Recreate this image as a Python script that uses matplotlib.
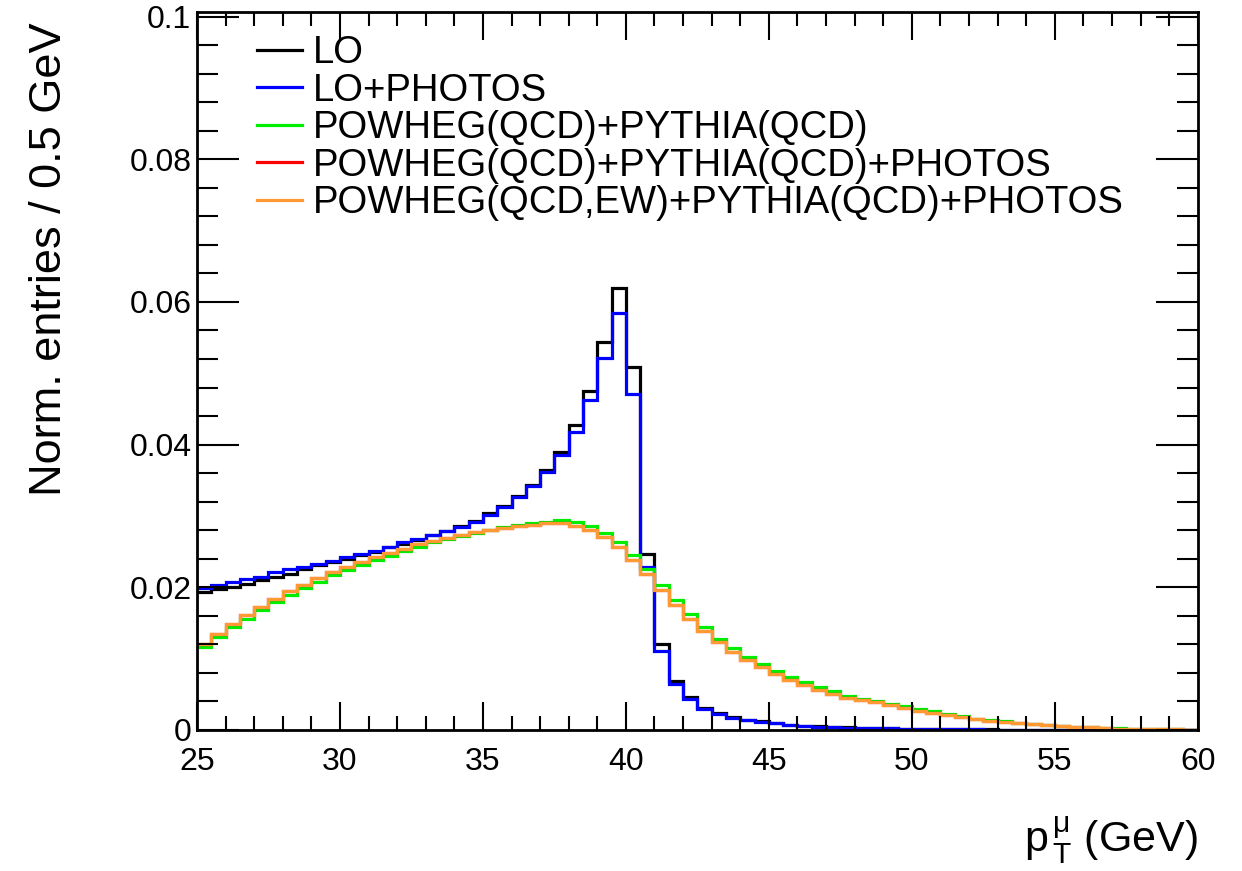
import numpy as np
import matplotlib
matplotlib.use("Agg")
import matplotlib.pyplot as plt
from matplotlib.ticker import MultipleLocator

# Bin edges: 25 to 60 GeV in 0.5 GeV steps (70 bins).
edges = np.arange(25.0, 60.01, 0.5)

lo = [
    0.0194, 0.0198, 0.0201, 0.0205, 0.0210, 0.0215, 0.0219, 0.0226, 0.0231, 0.0235,
    0.0240, 0.0245, 0.0250, 0.0256, 0.0261, 0.0267, 0.0273, 0.0279, 0.0286, 0.0293,
    0.0304, 0.0314, 0.0328, 0.0344, 0.0364, 0.0389, 0.0427, 0.0475, 0.0544, 0.0619,
    0.0509, 0.0247, 0.0120, 0.0069, 0.0046, 0.0031, 0.0024, 0.0018, 0.0014, 0.0012,
    0.00096, 0.00076, 0.00062, 0.00050, 0.00042, 0.00036, 0.00031, 0.00027, 0.00023, 0.00020,
    0.00017, 0.00014, 0.00012, 0.00010, 0.00008, 0.00007, 0.00006, 0.00005, 0.00004, 0.00003,
    0.00003, 0.00002, 0.00002, 0.00001, 0.00001, 0.00001, 0.00001, 0.0, 0.0, 0.0,
]
lo_photos = [
    0.0199, 0.0203, 0.0208, 0.0211, 0.0215, 0.0221, 0.0225, 0.0229, 0.0233, 0.0237,
    0.0242, 0.0246, 0.0251, 0.0257, 0.0263, 0.0268, 0.0274, 0.0279, 0.0284, 0.0291,
    0.0302, 0.0312, 0.0326, 0.0342, 0.0362, 0.0385, 0.0417, 0.0462, 0.0522, 0.0584,
    0.0471, 0.0228, 0.0111, 0.0065, 0.0043, 0.0030, 0.0023, 0.0017, 0.0014, 0.0011,
    0.00092, 0.00073, 0.00060, 0.00048, 0.00040, 0.00034, 0.00029, 0.00025, 0.00021, 0.00018,
    0.00015, 0.00013, 0.00011, 0.00009, 0.00008, 0.00006, 0.00005, 0.00004, 0.00004, 0.00003,
    0.00002, 0.00002, 0.00002, 0.00001, 0.00001, 0.00001, 0.00001, 0.0, 0.0, 0.0,
]
powheg_qcd = [
    0.0116, 0.0130, 0.0144, 0.0156, 0.0168, 0.0179, 0.0189, 0.0199, 0.0208, 0.0217,
    0.0224, 0.0231, 0.0238, 0.0244, 0.0251, 0.0257, 0.0263, 0.0268, 0.0272, 0.0276,
    0.0280, 0.0284, 0.0287, 0.0290, 0.0292, 0.0294, 0.0291, 0.0286, 0.0276, 0.0263,
    0.0245, 0.0226, 0.0203, 0.0182, 0.0162, 0.0144, 0.0128, 0.0115, 0.0103, 0.0092,
    0.0083, 0.0074, 0.0067, 0.0060, 0.0054, 0.0048, 0.0044, 0.0041, 0.0037, 0.0033,
    0.0029, 0.0026, 0.0022, 0.0019, 0.0016, 0.0014, 0.0012, 0.0010, 0.00085, 0.00070,
    0.00056, 0.00046, 0.00037, 0.00028, 0.00022, 0.00018, 0.00014, 0.00011, 0.00008, 0.00006,
]
powheg_qcd_photos = [
    0.0121, 0.0135, 0.0148, 0.0161, 0.0173, 0.0184, 0.0195, 0.0203, 0.0213, 0.0222,
    0.0229, 0.0235, 0.0242, 0.0248, 0.0254, 0.0260, 0.0265, 0.0269, 0.0273, 0.0277,
    0.0280, 0.0283, 0.0286, 0.0288, 0.0290, 0.0290, 0.0286, 0.0280, 0.0270, 0.0256,
    0.0238, 0.0218, 0.0196, 0.0175, 0.0155, 0.0139, 0.0123, 0.0110, 0.0098, 0.0088,
    0.0079, 0.0070, 0.0063, 0.0056, 0.0050, 0.0045, 0.0042, 0.0039, 0.0035, 0.0031,
    0.0027, 0.0024, 0.0021, 0.0018, 0.0015, 0.0013, 0.0011, 0.00096, 0.00080, 0.00067,
    0.00053, 0.00044, 0.00035, 0.00026, 0.00020, 0.00016, 0.00012, 0.00010, 0.00007, 0.00005,
]
powheg_qcd_ew_photos = [
    0.0121, 0.0135, 0.0148, 0.0161, 0.0173, 0.0184, 0.0195, 0.0203, 0.0213, 0.0222,
    0.0229, 0.0235, 0.0242, 0.0248, 0.0254, 0.0260, 0.0265, 0.0269, 0.0273, 0.0277,
    0.0280, 0.0283, 0.0286, 0.0288, 0.0290, 0.0290, 0.0286, 0.0280, 0.0270, 0.0256,
    0.0238, 0.0218, 0.0196, 0.0175, 0.0155, 0.0139, 0.0123, 0.0110, 0.0098, 0.0088,
    0.0079, 0.0070, 0.0063, 0.0056, 0.0050, 0.0045, 0.0042, 0.0039, 0.0035, 0.0031,
    0.0027, 0.0024, 0.0021, 0.0018, 0.0015, 0.0013, 0.0011, 0.00096, 0.00080, 0.00067,
    0.00053, 0.00044, 0.00035, 0.00026, 0.00020, 0.00016, 0.00012, 0.00010, 0.00007, 0.00005,
]

series = [
    ("LO", lo, "black"),
    ("LO+PHOTOS", lo_photos, "#0000ff"),
    ("POWHEG(QCD)+PYTHIA(QCD)", powheg_qcd, "#00ee00"),
    ("POWHEG(QCD)+PYTHIA(QCD)+PHOTOS", powheg_qcd_photos, "#ff0000"),
    ("POWHEG(QCD,EW)+PYTHIA(QCD)+PHOTOS", powheg_qcd_ew_photos, "#ff9933"),
]

plt.rcParams["font.family"] = ["Liberation Sans", "DejaVu Sans"]
plt.rcParams["mathtext.fontset"] = "custom"
plt.rcParams["mathtext.rm"] = "Liberation Sans"
plt.rcParams["mathtext.it"] = "Liberation Sans"

fig = plt.figure(figsize=(12.42, 8.71), dpi=100)
ax = fig.add_axes([0.1586, 0.1619, 0.8058, 0.8240])

for label, values, color in series:
    ax.stairs(values, edges, color=color, linewidth=2.3, label=label, baseline=None)

ax.set_xlim(25, 60)
ax.set_ylim(0, 0.1006)

ax.xaxis.set_major_locator(MultipleLocator(5))
ax.xaxis.set_minor_locator(MultipleLocator(1))
ax.yaxis.set_major_locator(MultipleLocator(0.02))
ax.yaxis.set_minor_locator(MultipleLocator(0.004))
ax.yaxis.set_major_formatter(plt.FuncFormatter(lambda v, p: "0" if v == 0 else f"{v:g}"))

ax.tick_params(axis="both", which="both", direction="in", top=True, right=True,
               width=1.5, labelsize=23, colors="black")
ax.tick_params(axis="x", which="major", length=20, pad=12)
ax.tick_params(axis="x", which="minor", length=10)
ax.tick_params(axis="y", which="major", length=30, pad=4)
ax.tick_params(axis="y", which="minor", length=15)
for spine in ax.spines.values():
    spine.set_linewidth(2)

ax.set_ylabel("Norm. entries / 0.5 GeV", fontsize=32.5, loc="top")
ax.yaxis.set_label_coords(-0.127, 0.986)
ax.set_xlabel(r"p$_{\,\mathrm{T}}^{\,\mu}$ (GeV)", fontsize=31, loc="right", labelpad=27)

ax.legend(loc="upper left", bbox_to_anchor=(0.06, 0.968), frameon=False, fontsize=27.5,
          handlelength=1.17, handletextpad=0.3, labelspacing=0.04, borderaxespad=0,
          borderpad=0)

fig.savefig("out.png", dpi=100)
